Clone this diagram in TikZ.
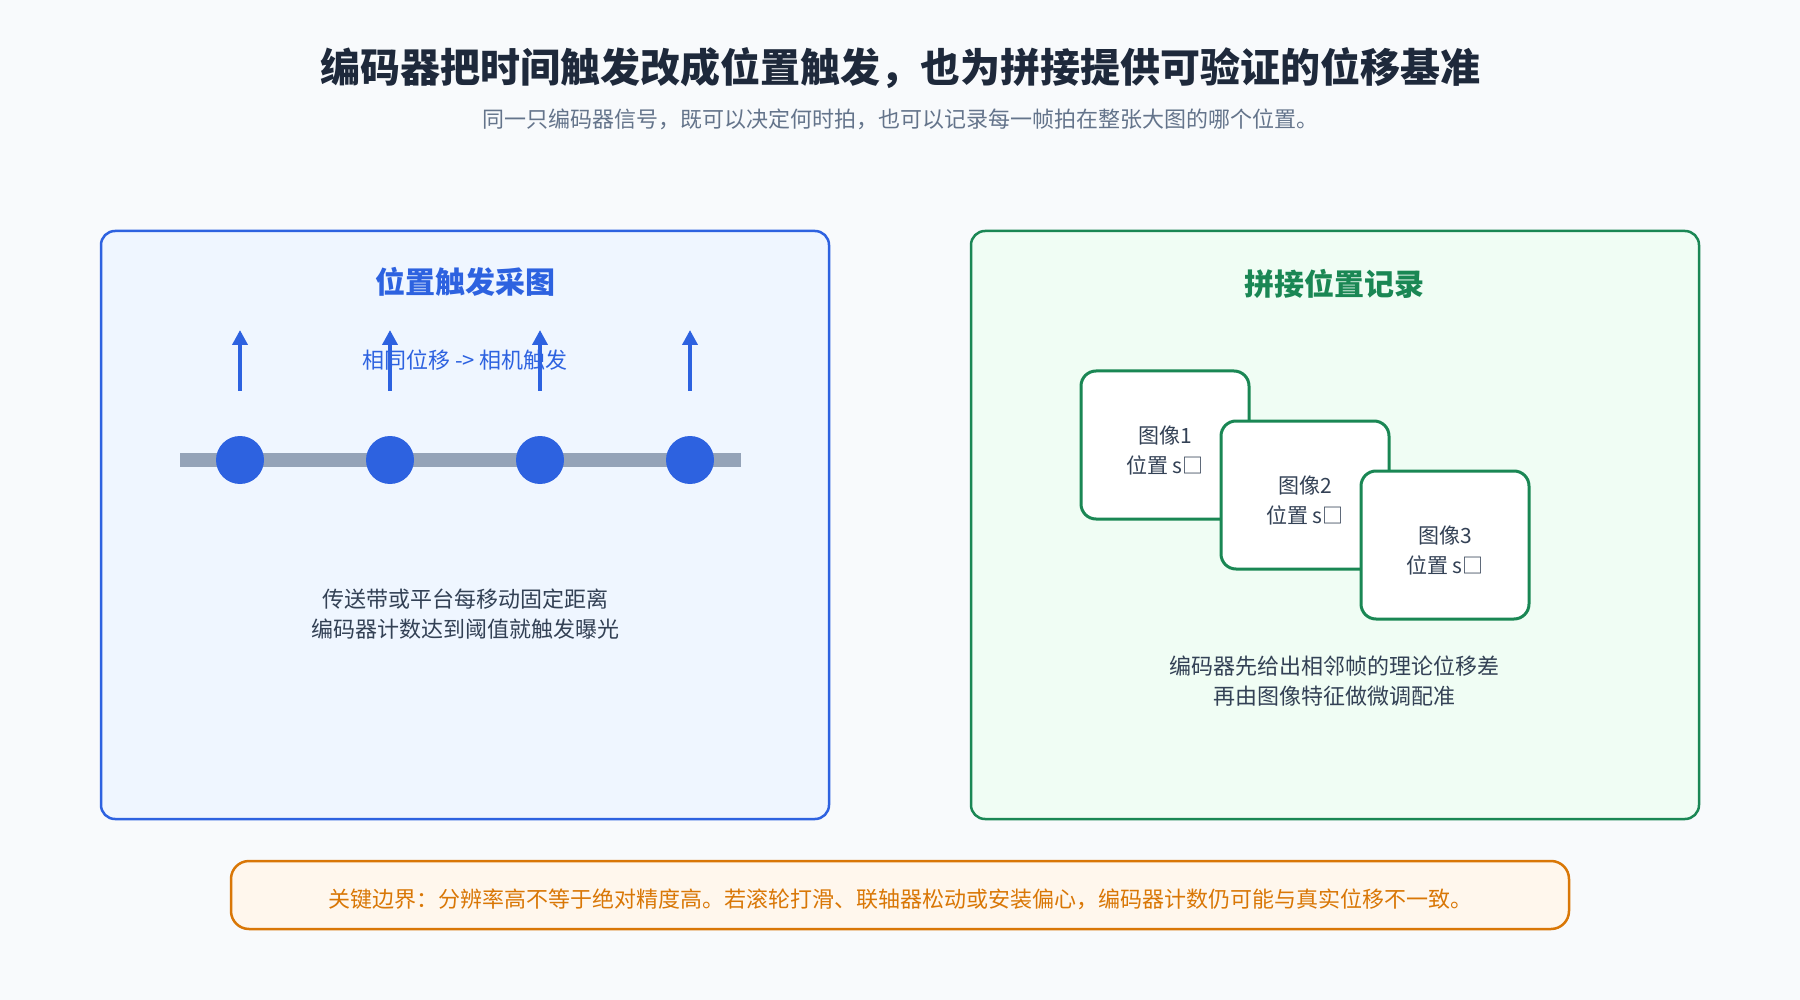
\documentclass[tikz,border=0pt]{standalone}
\usepackage{fontspec}
\setmainfont{Noto Sans CJK SC}
\usetikzlibrary{arrows.meta}
\definecolor{bgc}{HTML}{F8FAFC}
\definecolor{titlec}{HTML}{1E293B}
\definecolor{subc}{HTML}{64748B}
\definecolor{bluec}{HTML}{2D62E0}
\definecolor{bluefill}{HTML}{EFF6FF}
\definecolor{greenc}{HTML}{1A8754}
\definecolor{greenfill}{HTML}{F0FDF4}
\definecolor{orangec}{HTML}{D97706}
\definecolor{orangefill}{HTML}{FFF7ED}
\definecolor{darkc}{HTML}{334155}
\definecolor{railc}{HTML}{94A3B8}
\tikzset{
  panel/.style={rounded corners=14pt, line width=2.5pt},
  imgbox/.style={draw=greenc, fill=white, line width=3pt, rounded corners=15pt, minimum width=168pt, minimum height=148pt},
  roller/.style={circle, fill=bluec, minimum size=48pt, inner sep=0pt},
  trig/.style={draw=bluec, line width=4.5pt, -{Triangle[length=15pt,width=15pt]}},
  body/.style={font=\fontsize{22}{30}\selectfont, text=darkc, align=center},
  boxtxt/.style={font=\fontsize{21}{26}\selectfont, text=darkc}
}
\begin{document}
\begin{tikzpicture}[x=1pt,y=-1pt]
\fill[bgc] (0,0) rectangle (1800,1000);
\useasboundingbox (0,0) rectangle (1800,1000);
% title
\node[font=\fontsize{40}{48}\selectfont\bfseries, text=titlec] (title) at (900,68) {编码器把时间触发改成位置触发，也为拼接提供可验证的位移基准};
\node[font=\fontsize{22}{26}\selectfont, text=subc] (sub) at (900,119) {同一只编码器信号，既可以决定何时拍，也可以记录每一帧拍在整张大图的哪个位置。};
% left panel
\draw[panel, draw=bluec, fill=bluefill] (101,231) rectangle (829,819);
\node[font=\fontsize{30}{36}\selectfont\bfseries, text=bluec] (ltitle) at (465,282) {位置触发采图};
\fill[railc] (180,453) rectangle (741,467);
\foreach \i/\x in {1/240,2/390,3/540,4/690}{
  \node[roller] (r\i) at (\x,460) {};
  \coordinate (a\i) at (\x,391);
  \coordinate (b\i) at (\x,330);
  \draw[trig] (a\i) -- (b\i);
}
\node[font=\fontsize{22}{26}\selectfont, text=bluec] (lab) at (465,360) {相同位移 -{}> 相机触发};
\node[body] (ltext) at (465,614) {传送带或平台每移动固定距离\\编码器计数达到阈值就触发曝光};
% right panel
\draw[panel, draw=greenc, fill=greenfill] (971,231) rectangle (1699,819);
\node[font=\fontsize{30}{36}\selectfont\bfseries, text=greenc] (rtitle) at (1334,284) {拼接位置记录};
\node[imgbox] (img1) at (1165,445) {};
\node[boxtxt] at (1165,436) {图像1};
\node[boxtxt] at (1165,465) {位置 s□};
\node[imgbox] (img2) at (1305,495) {};
\node[boxtxt] at (1305,486) {图像2};
\node[boxtxt] at (1305,515) {位置 s□};
\node[imgbox] (img3) at (1445,545) {};
\node[boxtxt] at (1445,536) {图像3};
\node[boxtxt] at (1445,565) {位置 s□};
\node[body] (rtext) at (1334,681) {编码器先给出相邻帧的理论位移差\\再由图像特征做微调配准};
% bottom banner
\draw[rounded corners=18pt, line width=2.5pt, draw=orangec, fill=orangefill] (231,861) rectangle (1569,929);
\node[font=\fontsize{22}{26}\selectfont, text=orangec] (note) at (900,899) {关键边界：分辨率高不等于绝对精度高。若滚轮打滑、联轴器松动或安装偏心，编码器计数仍可能与真实位移不一致。};
\end{tikzpicture}
\end{document}
